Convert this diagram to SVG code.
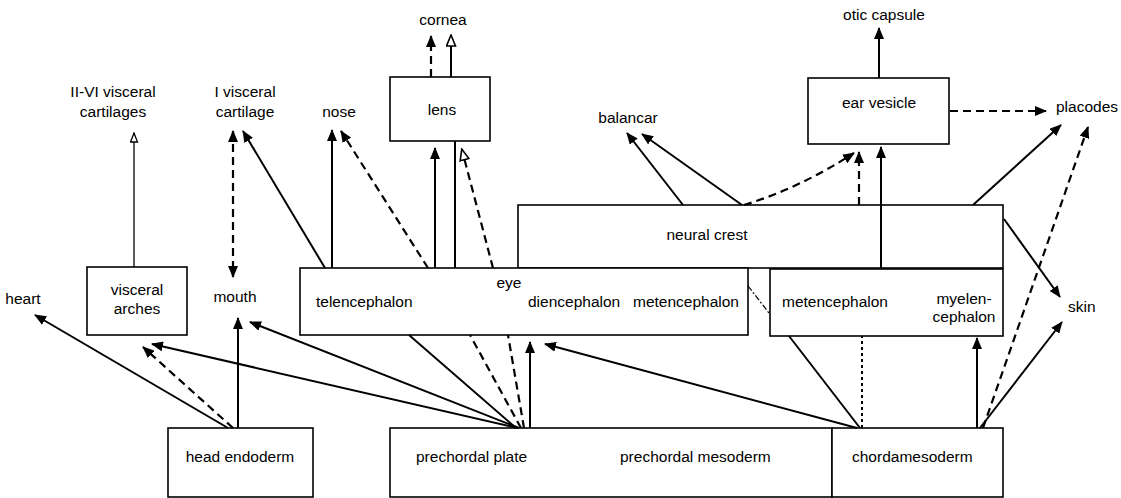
<svg xmlns="http://www.w3.org/2000/svg" width="1121" height="498" viewBox="0 0 1121 498">
<style>
text{font-family:"Liberation Sans",Arial,sans-serif;font-size:15.5px;fill:#000}
.box{fill:#fff;stroke:#000;stroke-width:1.6}
.s{fill:none;stroke:#000;stroke-width:2}
.d{fill:none;stroke:#000;stroke-width:2.2;stroke-dasharray:8 5}
.dt{fill:none;stroke:#000;stroke-width:2;stroke-dasharray:3 3}
.dd{fill:none;stroke:#000;stroke-width:1.2;stroke-dasharray:6 2 2 2}
.thin{fill:none;stroke:#000;stroke-width:1.3}
.m{text-anchor:middle}
</style>
<defs>
<marker id="a" markerUnits="userSpaceOnUse" markerWidth="12" markerHeight="10" refX="11" refY="5" orient="auto-start-reverse"><path d="M0,0 L12,5 L0,10 z" fill="#000"/></marker>
<marker id="o" markerUnits="userSpaceOnUse" markerWidth="13" markerHeight="11" refX="11" refY="5.5" orient="auto"><path d="M1,1 L12,5.5 L1,10 z" fill="#fff" stroke="#000" stroke-width="1.6"/></marker>
<marker id="os" markerUnits="userSpaceOnUse" markerWidth="11" markerHeight="9" refX="10" refY="4.5" orient="auto"><path d="M1,1 L10,4.5 L1,8 z" fill="#fff" stroke="#000" stroke-width="1.3"/></marker>
</defs>
<g id="nodes">
<g id="n-lens"><rect class="box" x="390" y="77" width="100" height="64"/><text class="m" x="442" y="115">lens</text></g>
<g id="n-ear"><rect class="box" x="808" y="78" width="141" height="66"/><text class="m" x="879" y="108">ear vesicle</text></g>
<g id="n-crest"><rect class="box" x="518" y="205" width="485" height="63"/><text class="m" x="707" y="240">neural crest</text></g>
<g id="n-brain1"><rect class="box" x="300" y="268" width="448" height="67"/><text x="316" y="307">telencephalon</text><text class="m" x="509" y="288">eye</text><text x="528" y="307">diencephalon</text><text x="633" y="307">metencephalon</text></g>
<g id="n-brain2"><rect class="box" x="770" y="269" width="233" height="67"/><text x="782" y="307">metencephalon</text><text class="m" x="964" y="304">myelen-</text><text class="m" x="964" y="322">cephalon</text></g>
<g id="n-arches"><rect class="box" x="87" y="267" width="100" height="68"/><text class="m" x="137" y="295">visceral</text><text class="m" x="137" y="314">arches</text></g>
<g id="n-endo"><rect class="box" x="168" y="428" width="145" height="69"/><text class="m" x="240" y="462">head endoderm</text></g>
<g id="n-prech"><rect class="box" x="390" y="428" width="442" height="69"/><text x="416" y="462">prechordal plate</text><text x="620" y="462">prechordal mesoderm</text></g>
<g id="n-chorda"><rect class="box" x="832" y="428" width="171" height="69"/><text x="852" y="462">chordamesoderm</text></g>
<g id="n-labels">
<text class="m" x="113" y="97">II-VI visceral</text><text class="m" x="113" y="117">cartilages</text>
<text class="m" x="245" y="97">I visceral</text><text class="m" x="245" y="117">cartilage</text>
<text class="m" x="339" y="117">nose</text>
<text class="m" x="443" y="25">cornea</text>
<text class="m" x="628" y="123">balancar</text>
<text class="m" x="884" y="20">otic capsule</text>
<text class="m" x="1087" y="112">placodes</text>
<text class="m" x="23" y="304">heart</text>
<text class="m" x="235" y="302">mouth</text>
<text x="1068" y="312">skin</text>
</g>
</g>
<g id="connectors">
<path class="s" d="M879,78 L879,28" marker-end="url(#a)"/>
<path class="thin" d="M134,267 L134,133" marker-end="url(#os)"/>
<path class="d" d="M233,131 L233,277" marker-start="url(#a)" marker-end="url(#a)"/>
<path class="s" d="M325,268 L243,131" marker-end="url(#a)"/>
<path class="s" d="M332,268 L332,130" marker-end="url(#a)"/>
<path class="d" d="M428,268 L341,131" marker-end="url(#a)"/>
<path class="s" d="M435,268 L435,148" marker-end="url(#a)"/>
<path class="s" d="M455,268 L455,141"/>
<path class="d" d="M431,77 L431,36" marker-end="url(#a)"/>
<path class="s" d="M451,77 L451,36" marker-end="url(#o)"/>
<path class="d" d="M493,268 L462,150" marker-end="url(#o)"/>
<path class="s" d="M683,205 L627,133" marker-end="url(#a)"/>
<path class="s" d="M742,205 L642,134" marker-end="url(#a)"/>
<path class="d" d="M744,205 Q800,188 854,153" marker-end="url(#a)"/>
<path class="d" d="M859,205 L859,152" marker-end="url(#a)"/>
<path class="s" d="M881,269 L881,147" marker-end="url(#a)"/>
<path class="s" d="M973,205 L1061,125" marker-end="url(#a)"/>
<path class="d" d="M950,111 L1046,111" marker-end="url(#a)"/>
<path class="d" d="M983,428 L1088,127" marker-end="url(#a)"/>
<path class="s" d="M1004,219 L1060,297" marker-end="url(#a)"/>
<path class="s" d="M980,428 L1062,322" marker-end="url(#a)"/>
<path class="s" d="M977,428 L977,338" marker-end="url(#a)"/>
<path class="dt" d="M862,428 L862,336"/>
<path class="s" d="M860,428 L789,336"/>
<path class="s" d="M857,428 L545,344" marker-end="url(#a)"/>
<path class="dd" d="M748,286 L769,313"/>
<path class="s" d="M228,428 L35,315" marker-end="url(#a)"/>
<path class="d" d="M233,428 L143,347" marker-end="url(#a)"/>
<path class="s" d="M238,428 L238,318" marker-end="url(#a)"/>
<path class="s" d="M518,428 L152,344" marker-end="url(#a)"/>
<path class="s" d="M519,428 L250,322" marker-end="url(#a)"/>
<path class="s" d="M516,428 L409,335"/>
<path class="d" d="M521,428 L470,335"/>
<path class="d" d="M524,428 L508,335"/>
<path class="s" d="M530,428 L530,342" marker-end="url(#a)"/>
</g>
</svg>
